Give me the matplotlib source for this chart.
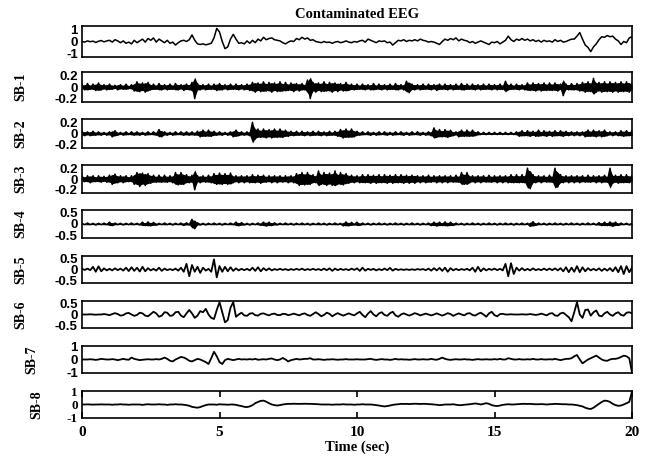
import numpy as np
import matplotlib.pyplot as plt

# sample times (s), one reading every 0.1 s
time_sec = np.arange(201) * 0.1

eeg = [
    0.0, -0.05, 0.05, -0.02, 0.03, -0.08, 0.02, 0.08, -0.03, 0.05,
    0.1, -0.05, 0.15, 0.05, -0.1, 0.05, -0.15, -0.05, -0.2, 0.1,
    -0.1, 0.05, 0.2, -0.05, 0.25, 0.1, 0.3, -0.05, 0.2, 0.05,
    -0.1, 0.1, -0.15, -0.05, -0.3, -0.1, 0.05, 0.1, 0.0, 0.15,
    0.55, 0.1, -0.2, -0.25, -0.2, -0.28, -0.22, -0.15, 0.3, 1.1,
    0.8, 0.0, -0.6, -0.45, 0.2, 0.6, 0.2, -0.15, -0.1, -0.2,
    0.05, -0.15, 0.1, -0.1, 0.2, 0.05, 0.35, 0.15, 0.25, 0.3,
    0.15, 0.1, 0.05, -0.1, -0.2, -0.05, 0.05, 0.0, 0.25, 0.15,
    0.35, 0.2, 0.3, 0.1, 0.15, 0.0, -0.05, -0.1, 0.0, -0.08,
    -0.05, -0.15, -0.05, 0.0, -0.1, -0.05, 0.05, -0.05, -0.1, 0.0,
    -0.05, 0.05, 0.1, -0.05, 0.2, 0.1, 0.0, -0.1, 0.05, 0.0,
    0.05, -0.1, -0.05, -0.3, -0.1, 0.1, 0.05, 0.15, 0.0, 0.1,
    0.05, 0.15, 0.05, 0.2, 0.1, 0.05, -0.05, 0.0, -0.05, -0.15,
    -0.25, 0.0, 0.2, 0.1, 0.25, 0.15, 0.3, 0.05, 0.2, 0.1,
    0.05, -0.1, 0.0, -0.15, -0.05, 0.05, -0.05, -0.15, -0.25, -0.05,
    -0.1, 0.0, -0.2, -0.05, 0.1, 0.45, 0.15, 0.0, 0.2, 0.1,
    0.25, 0.1, 0.2, 0.05, 0.15, 0.0, 0.1, -0.05, 0.1, 0.0,
    0.05, -0.05, 0.15, 0.0, 0.1, -0.05, 0.0, 0.1, 0.2, 0.2,
    0.45, 0.75, 0.2, -0.3, -0.5, -0.85, -0.45, -0.2, 0.15, 0.4,
    0.35, 0.5, 0.4, 0.45, 0.2, 0.05, -0.25, 0.0, -0.1, 0.3,
    0.4,
]

sb1 = [
    0.04, -0.05, 0.06, -0.04, 0.05, -0.06, 0.07, -0.05, 0.04, -0.05,
    0.05, -0.04, 0.03, -0.05, 0.04, -0.04, 0.05, -0.03, 0.04, -0.07,
    0.09, -0.08, 0.07, -0.09, 0.08, -0.05, 0.05, -0.04, 0.06, -0.05,
    0.04, -0.05, 0.05, -0.04, 0.06, -0.05, 0.04, -0.06, 0.05, -0.05,
    0.08, -0.2, 0.06, -0.05, 0.04, -0.05, 0.05, -0.04, 0.05, -0.06,
    0.06, -0.05, 0.04, -0.05, 0.05, -0.04, 0.05, -0.05, 0.04, -0.05,
    0.05, -0.06, 0.08, -0.09, 0.07, -0.08, 0.09, -0.07, 0.08, -0.09,
    0.07, -0.08, 0.09, -0.07, 0.08, -0.06, 0.07, -0.08, 0.06, -0.07,
    0.06, -0.05, 0.12, -0.2, 0.08, -0.09, 0.07, -0.08, 0.09, -0.07,
    0.08, -0.09, 0.07, -0.08, 0.06, -0.07, 0.08, -0.06, 0.05, -0.05,
    0.05, -0.04, 0.05, -0.05, 0.04, -0.05, 0.06, -0.04, 0.05, -0.05,
    0.04, -0.05, 0.05, -0.04, 0.06, -0.05, 0.04, -0.05, 0.1, -0.1,
    0.05, -0.05, 0.04, -0.05, 0.05, -0.04, 0.05, -0.05, 0.04, -0.06,
    0.05, -0.04, 0.05, -0.05, 0.04, -0.05, 0.05, -0.04, 0.06, -0.05,
    0.05, -0.04, 0.05, -0.05, 0.04, -0.05, 0.05, -0.04, 0.05, -0.05,
    0.04, -0.05, 0.05, -0.04, 0.1, -0.05, 0.05, -0.04, 0.05, -0.05,
    0.04, -0.05, 0.07, -0.06, 0.07, -0.07, 0.06, -0.07, 0.07, -0.06,
    0.07, -0.06, 0.07, -0.07, 0.05, -0.15, 0.05, -0.05, 0.06, -0.05,
    0.06, -0.07, 0.08, -0.09, 0.09, -0.08, 0.15, -0.09, 0.08, -0.09,
    0.09, -0.08, 0.09, -0.09, 0.08, -0.09, 0.09, -0.08, 0.09, -0.09,
    0.05,
]

sb2 = [
    0.04, -0.04, 0.03, -0.04, 0.04, -0.03, 0.03, -0.03, 0.02, -0.03,
    0.03, -0.06, 0.05, -0.03, 0.02, -0.03, 0.03, -0.02, 0.03, -0.03,
    0.03, -0.03, 0.02, -0.03, 0.03, -0.02, 0.03, -0.03, 0.07, -0.06,
    0.03, -0.03, 0.02, -0.03, 0.03, -0.02, 0.03, -0.03, 0.03, -0.03,
    0.03, -0.03, 0.04, -0.06, 0.06, -0.05, 0.06, -0.05, 0.04, -0.03,
    0.03, -0.03, 0.02, -0.03, 0.03, -0.06, 0.06, -0.04, 0.03, -0.03,
    0.03, -0.04, 0.2, -0.1, 0.08, -0.07, 0.08, -0.08, 0.07, -0.08,
    0.08, -0.07, 0.08, -0.07, 0.06, -0.05, 0.04, -0.04, 0.04, -0.03,
    0.04, -0.04, 0.03, -0.04, 0.04, -0.03, 0.04, -0.04, 0.03, -0.04,
    0.04, -0.03, 0.04, -0.05, 0.07, -0.08, 0.08, -0.07, 0.08, -0.06,
    0.04, -0.03, 0.03, -0.02, 0.03, -0.03, 0.02, -0.03, 0.03, -0.02,
    0.03, -0.03, 0.02, -0.03, 0.03, -0.02, 0.03, -0.03, 0.02, -0.03,
    0.03, -0.02, 0.03, -0.03, 0.02, -0.03, 0.03, -0.04, 0.1, -0.07,
    0.07, -0.06, 0.07, -0.07, 0.06, -0.04, 0.03, -0.06, 0.06, -0.05,
    0.06, -0.05, 0.06, -0.04, 0.03, -0.02, 0.02, -0.02, 0.02, -0.02,
    0.02, -0.02, 0.02, -0.02, 0.02, -0.02, 0.02, -0.02, 0.03, -0.05,
    0.05, -0.04, 0.05, -0.05, 0.04, -0.05, 0.06, -0.04, 0.05, -0.05,
    0.04, -0.05, 0.05, -0.04, 0.05, -0.05, 0.04, -0.04, 0.03, -0.04,
    0.03, -0.04, 0.03, -0.06, 0.06, -0.05, 0.06, -0.06, 0.05, -0.06,
    0.06, -0.04, 0.03, -0.04, 0.03, -0.04, 0.05, -0.05, 0.05, -0.04,
    0.05,
]

sb3 = [
    0.06, -0.05, 0.06, -0.07, 0.06, -0.05, 0.06, -0.06, 0.05, -0.06,
    0.07, -0.1, 0.09, -0.07, 0.06, -0.07, 0.06, -0.05, 0.06, -0.1,
    0.12, -0.14, 0.11, -0.12, 0.1, -0.08, 0.07, -0.06, 0.07, -0.06,
    0.07, -0.06, 0.06, -0.07, 0.12, -0.11, 0.12, -0.1, 0.08, -0.07,
    0.07, -0.2, 0.06, -0.07, 0.06, -0.06, 0.07, -0.07, 0.1, -0.1,
    0.11, -0.1, 0.1, -0.1, 0.11, -0.07, 0.06, -0.07, 0.06, -0.07,
    0.06, -0.07, 0.08, -0.07, 0.07, -0.08, 0.07, -0.06, 0.06, -0.07,
    0.06, -0.07, 0.06, -0.06, 0.06, -0.07, 0.06, -0.07, 0.1, -0.12,
    0.12, -0.11, 0.12, -0.1, 0.08, -0.07, 0.15, -0.1, 0.12, -0.12,
    0.11, -0.12, 0.15, -0.1, 0.12, -0.11, 0.1, -0.08, 0.07, -0.07,
    0.06, -0.07, 0.08, -0.07, 0.08, -0.08, 0.07, -0.08, 0.08, -0.07,
    0.08, -0.08, 0.07, -0.08, 0.08, -0.07, 0.08, -0.08, 0.07, -0.08,
    0.07, -0.08, 0.06, -0.07, 0.06, -0.07, 0.07, -0.06, 0.06, -0.07,
    0.06, -0.07, 0.06, -0.07, 0.06, -0.06, 0.07, -0.06, 0.12, -0.1,
    0.12, -0.07, 0.06, -0.07, 0.06, -0.07, 0.06, -0.06, 0.07, -0.06,
    0.06, -0.07, 0.06, -0.07, 0.06, -0.07, 0.08, -0.07, 0.08, -0.07,
    0.08, -0.07, 0.2, -0.18, 0.08, -0.07, 0.06, -0.07, 0.06, -0.06,
    0.07, -0.06, 0.2, -0.15, 0.08, -0.07, 0.06, -0.07, 0.06, -0.07,
    0.06, -0.07, 0.06, -0.06, 0.07, -0.06, 0.06, -0.07, 0.06, -0.07,
    0.07, -0.06, 0.2, -0.08, 0.07, -0.08, 0.08, -0.07, 0.08, -0.07,
    0.06,
]

sb4 = [
    0.03, -0.03, 0.04, -0.03, 0.03, -0.04, 0.03, -0.03, 0.04, -0.03,
    0.08, -0.07, 0.04, -0.03, 0.03, -0.04, 0.03, -0.03, 0.04, -0.03,
    0.03, -0.04, 0.08, -0.07, 0.09, -0.08, 0.07, -0.05, 0.03, -0.03,
    0.04, -0.03, 0.03, -0.04, 0.03, -0.03, 0.04, -0.06, 0.05, -0.04,
    0.2, -0.2, 0.05, -0.04, 0.03, -0.04, 0.03, -0.03, 0.04, -0.03,
    0.03, -0.04, 0.03, -0.03, 0.04, -0.03, 0.08, -0.08, 0.06, -0.04,
    0.03, -0.04, 0.03, -0.03, 0.04, -0.06, 0.08, -0.09, 0.08, -0.07,
    0.05, -0.04, 0.03, -0.03, 0.04, -0.03, 0.03, -0.04, 0.03, -0.03,
    0.04, -0.03, 0.03, -0.04, 0.03, -0.03, 0.04, -0.03, 0.03, -0.04,
    0.03, -0.03, 0.04, -0.03, 0.03, -0.08, 0.09, -0.08, 0.07, -0.04,
    0.08, -0.06, 0.04, -0.03, 0.03, -0.04, 0.03, -0.03, 0.04, -0.03,
    0.03, -0.04, 0.03, -0.03, 0.04, -0.03, 0.03, -0.04, 0.03, -0.03,
    0.04, -0.03, 0.03, -0.04, 0.03, -0.03, 0.04, -0.07, 0.08, -0.09,
    0.08, -0.07, 0.09, -0.08, 0.08, -0.06, 0.04, -0.03, 0.03, -0.04,
    0.03, -0.03, 0.04, -0.03, 0.03, -0.04, 0.03, -0.03, 0.04, -0.03,
    0.03, -0.04, 0.03, -0.03, 0.04, -0.03, 0.03, -0.04, 0.03, -0.03,
    0.04, -0.03, 0.03, -0.1, 0.1, -0.06, 0.04, -0.03, 0.03, -0.04,
    0.03, -0.03, 0.04, -0.03, 0.03, -0.04, 0.03, -0.03, 0.04, -0.03,
    0.03, -0.04, 0.03, -0.03, 0.04, -0.03, 0.03, -0.04, 0.06, -0.07,
    0.08, -0.07, 0.09, -0.1, 0.08, -0.06, 0.04, -0.03, 0.03, -0.04,
    0.03,
]

sb5 = [
    0.03, -0.02, 0.04, -0.03, 0.12, -0.1, 0.14, -0.08, 0.05, -0.04,
    0.03, -0.04, 0.05, -0.03, 0.04, -0.05, 0.08, -0.07, 0.1, -0.06,
    0.08, -0.09, 0.12, -0.08, 0.06, -0.04, 0.03, -0.05, 0.08, -0.06,
    0.04, -0.03, 0.02, -0.03, 0.04, -0.05, 0.08, -0.1, 0.25, -0.3,
    0.2, -0.1, 0.12, -0.15, 0.08, -0.05, 0.03, -0.1, 0.45, -0.35,
    0.15, -0.1, 0.12, -0.08, 0.1, -0.06, 0.05, -0.04, 0.03, -0.03,
    0.03, -0.04, 0.08, -0.06, 0.1, -0.08, 0.06, -0.04, 0.05, -0.04,
    0.02, -0.02, 0.03, -0.02, 0.02, -0.03, 0.02, -0.02, 0.03, -0.02,
    0.04, -0.03, 0.02, -0.02, 0.03, -0.02, 0.02, -0.03, 0.04, -0.03,
    0.05, -0.06, 0.04, -0.03, 0.03, -0.02, 0.02, -0.03, 0.04, -0.02,
    0.05, -0.06, 0.08, -0.05, 0.03, -0.02, 0.03, -0.04, 0.02, -0.03,
    0.04, -0.03, 0.07, -0.05, 0.03, -0.02, 0.01, -0.02, 0.01, -0.02,
    0.01, -0.02, 0.02, -0.01, 0.02, -0.03, 0.04, -0.05, 0.06, -0.04,
    0.07, -0.06, 0.08, -0.1, 0.06, -0.04, 0.03, -0.03, 0.02, -0.02,
    0.03, -0.04, 0.08, -0.1, 0.12, -0.08, 0.05, -0.04, 0.03, -0.02,
    0.04, -0.03, 0.03, -0.04, 0.25, -0.3, 0.28, -0.2, 0.08, -0.05,
    0.06, -0.04, 0.03, -0.04, 0.05, -0.03, 0.02, -0.03, 0.04, -0.03,
    0.04, -0.03, 0.05, -0.04, 0.06, -0.08, 0.1, -0.12, 0.08, -0.1,
    0.15, -0.12, 0.1, -0.08, 0.06, -0.04, 0.03, -0.04, 0.05, -0.06,
    0.04, -0.05, 0.06, -0.08, 0.1, -0.12, 0.15, -0.2, 0.15, -0.12,
    0.08,
]

sb6 = [
    0.0, 0.0, 0.0, 0.01, 0.0, -0.01, 0.0, 0.0, 0.02, 0.0,
    -0.03, 0.02, 0.06, 0.02, -0.05, -0.03, 0.05, 0.07, 0.0, -0.06,
    -0.02, 0.08, 0.05, -0.05, -0.08, 0.02, 0.12, 0.05, -0.1, -0.05,
    0.1, 0.08, -0.06, -0.04, 0.1, 0.12, -0.05, -0.12, 0.05, 0.2,
    0.05, -0.15, -0.05, 0.15, 0.1, 0.25, 0.0, -0.15, -0.2, 0.2,
    0.55, 0.1, -0.35, -0.25, 0.3, 0.55, -0.1, 0.0, 0.08, -0.04,
    -0.06, 0.04, 0.06, -0.03, -0.05, 0.03, 0.05, 0.0, -0.04, 0.02,
    0.04, -0.02, -0.03, 0.03, 0.02, -0.03, 0.0, 0.04, 0.0, -0.04,
    0.02, 0.05, -0.02, -0.06, 0.02, 0.1, 0.02, -0.08, -0.02, 0.08,
    0.03, -0.08, 0.0, 0.06, 0.0, -0.05, 0.0, 0.05, 0.0, -0.04,
    0.05, 0.12, -0.02, -0.12, 0.04, 0.15, 0.0, -0.08, 0.05, 0.1,
    -0.02, -0.06, 0.06, 0.12, -0.04, -0.1, 0.0, 0.05, 0.0, -0.05,
    0.0, 0.06, 0.02, -0.04, 0.0, 0.04, 0.0, -0.04, 0.0, 0.05,
    0.0, -0.05, 0.0, 0.06, 0.02, -0.06, 0.0, 0.05, 0.0, -0.04,
    0.04, 0.06, -0.02, -0.05, 0.03, 0.08, 0.0, -0.1, 0.05, 0.12,
    -0.03, -0.08, 0.02, 0.03, 0.0, 0.0, 0.01, 0.0, 0.0, 0.0,
    0.01, 0.0, 0.0, 0.02, 0.0, -0.02, 0.0, 0.04, 0.0, -0.04,
    0.04, 0.06, -0.04, -0.06, 0.05, 0.08, -0.02, -0.12, -0.3, 0.1,
    0.55, 0.0, -0.15, 0.2, 0.22, -0.05, 0.1, 0.18, -0.05, -0.08,
    0.05, 0.12, 0.0, -0.06, 0.05, 0.1, -0.02, -0.05, 0.08, 0.1,
    0.05,
]

sb7 = [
    0.0, 0.0, 0.0, 0.02, 0.0, -0.03, 0.0, 0.05, 0.02, 0.0,
    0.0, 0.03, 0.0, -0.05, 0.0, 0.05, 0.0, -0.02, 0.15, 0.05,
    0.0, -0.05, -0.02, 0.0, 0.02, 0.0, 0.0, 0.03, 0.0, 0.05,
    0.15, 0.05, -0.1, -0.15, 0.0, 0.1, 0.2, 0.15, 0.05, -0.1,
    -0.15, -0.05, 0.05, 0.0, -0.1, -0.2, -0.35, 0.1, 0.6, 0.25,
    -0.2, -0.35, -0.05, 0.05, 0.0, -0.05, 0.0, 0.05, 0.0, 0.02,
    0.0, 0.03, 0.0, 0.05, -0.02, 0.0, 0.02, 0.0, 0.05, 0.08,
    0.0, -0.05, 0.0, 0.12, 0.0, -0.15, -0.05, 0.0, 0.05, 0.0,
    0.02, 0.05, 0.05, 0.1, 0.0, 0.0, 0.02, 0.0, -0.03, 0.0,
    0.0, 0.02, 0.0, -0.02, 0.0, 0.0, 0.03, 0.0, 0.0, 0.0,
    0.02, 0.0, 0.0, 0.0, 0.03, 0.05, 0.0, -0.03, 0.0, 0.03,
    0.0, 0.0, -0.03, 0.0, 0.05, 0.0, 0.02, 0.0, 0.0, -0.02,
    0.0, 0.03, 0.0, 0.0, 0.02, 0.0, 0.0, 0.05, 0.0, -0.02,
    0.05, 0.15, 0.05, 0.0, -0.03, 0.0, 0.02, 0.0, 0.0, 0.03,
    0.0, 0.0, -0.03, 0.0, 0.03, 0.0, 0.0, 0.02, 0.0, 0.0,
    0.03, 0.0, 0.05, 0.0, 0.0, 0.1, 0.05, 0.0, 0.0, 0.03,
    0.0, 0.0, 0.02, 0.0, 0.05, 0.0, 0.0, 0.03, 0.0, 0.0,
    0.02, 0.0, 0.05, 0.0, -0.05, 0.0, 0.05, 0.05, 0.1, 0.25,
    0.35, 0.0, -0.3, -0.15, 0.0, 0.1, 0.2, 0.3, 0.15, 0.0,
    -0.08, -0.1, 0.0, 0.05, 0.05, 0.1, 0.2, 0.3, 0.25, 0.1,
    -1.0,
]

sb8 = [
    0.0, 0.0, 0.01, 0.0, -0.01, 0.0, 0.0, 0.01, 0.0, 0.0,
    0.0, -0.02, 0.0, 0.0, 0.02, 0.0, 0.0, -0.02, 0.0, 0.0,
    0.0, 0.0, -0.03, 0.0, 0.02, 0.0, 0.0, 0.0, 0.02, 0.0,
    0.0, -0.03, 0.0, 0.0, 0.02, 0.0, 0.0, -0.02, -0.05, -0.1,
    -0.18, -0.22, -0.25, -0.2, -0.12, -0.05, 0.0, 0.0, 0.0, -0.02,
    0.02, 0.0, 0.0, -0.02, 0.0, 0.0, -0.03, -0.08, -0.12, -0.18,
    -0.2, -0.15, -0.05, 0.1, 0.2, 0.28, 0.3, 0.22, 0.1, 0.0,
    -0.05, -0.08, -0.05, 0.0, 0.03, 0.05, 0.05, 0.06, 0.05, 0.05,
    0.05, 0.06, 0.05, 0.05, 0.04, 0.03, 0.02, 0.0, 0.0, 0.0,
    0.0, -0.02, 0.0, 0.0, 0.0, 0.02, 0.0, 0.0, 0.0, -0.02,
    0.0, 0.0, 0.02, 0.0, 0.0, 0.0, -0.02, -0.05, -0.08, -0.12,
    -0.15, -0.12, -0.08, -0.03, 0.0, 0.02, 0.05, 0.04, 0.05, 0.03,
    0.05, 0.06, 0.05, 0.04, 0.05, 0.05, 0.03, 0.02, 0.0, -0.02,
    -0.05, -0.03, 0.0, 0.0, 0.0, 0.02, -0.02, -0.05, -0.05, -0.02,
    0.0, 0.02, 0.05, 0.08, 0.05, 0.0, 0.05, 0.1, 0.05, -0.05,
    -0.1, -0.12, -0.08, -0.03, 0.0, 0.02, 0.0, 0.0, 0.02, 0.03,
    0.05, 0.05, 0.04, 0.05, 0.03, 0.02, 0.02, 0.03, 0.02, 0.0,
    0.02, 0.03, 0.05, 0.04, 0.03, 0.02, 0.02, 0.0, 0.0, -0.02,
    -0.05, -0.1, -0.15, -0.25, -0.32, -0.35, -0.25, -0.1, 0.05, 0.2,
    0.3, 0.28, 0.2, 0.05, -0.05, -0.1, -0.08, 0.0, 0.1, 0.2,
    1.0,
]

signals = [eeg, sb1, sb2, sb3, sb4, sb5, sb6, sb7, sb8]
band_names = ["", "SB-1", "SB-2", "SB-3", "SB-4", "SB-5", "SB-6", "SB-7", "SB-8"]
y_limits = [1.3, 0.26, 0.26, 0.26, 0.6, 0.6, 0.6, 1.05, 1.05]
y_ticks = [[-1, 0, 1], [-0.2, 0, 0.2], [-0.2, 0, 0.2], [-0.2, 0, 0.2],
           [-0.5, 0, 0.5], [-0.5, 0, 0.5], [-0.5, 0, 0.5], [-1, 0, 1], [-1, 0, 1]]
y_tick_labels = [["-1", "0", "1"], ["-0.2", "0", "0.2"], ["-0.2", "0", "0.2"],
                 ["-0.2", "0", "0.2"], ["-0.5", "0", "0.5"], ["-0.5", "0", "0.5"],
                 ["-0.5", "0", "0.5"], ["-1", "0", "1"], ["-1", "0", "1"]]
x_ticks = [0, 5, 10, 15, 20]

# panel frames in pixels (top, bottom) on a 647 x 459 canvas
W, H = 647, 459
frame_tops = [26, 72, 119, 165, 210, 256, 301, 346, 391]
frame_bottoms = [57, 102, 148, 193, 238, 283, 328, 373, 418]
left_px, right_px = 82, 632
# right edge of the rotated band labels, in pixels
label_right_px = [0, 27, 27, 27, 27, 27, 27, 38, 43]

SERIF = "Liberation Serif"
SANS = "Liberation Sans"

fig = plt.figure(figsize=(W / 100, H / 100), dpi=100)
fig.patch.set_facecolor("white")

axes = []
for i, sig in enumerate(signals):
    top, bot = frame_tops[i], frame_bottoms[i]
    ax = fig.add_axes([left_px / W, 1 - bot / H, (right_px - left_px) / W, (bot - top) / H])
    dense = i in (1, 2, 3, 4)
    if dense:
        # dense sub-bands read as a solid black core plus the zigzag trace
        core = np.abs(np.asarray(sig)) * 0.85
        ax.fill_between(time_sec, -core, core, color="black", lw=0)
        ax.plot(time_sec, sig, color="black", lw=1.1)
    else:
        ax.plot(time_sec, sig, color="black", lw=1.1 if i == 0 else 1.3)
    ax.set_xlim(0, 20)
    ax.set_ylim(-y_limits[i], y_limits[i])
    for sp in ax.spines.values():
        sp.set_linewidth(1.2)
    ax.set_yticks(y_ticks[i])
    tick_family = SERIF if i == 8 else SANS
    ax.set_yticklabels(y_tick_labels[i], fontfamily=tick_family,
                       fontweight="bold", fontsize=9.5)
    ax.tick_params(axis="y", length=0, pad=3)
    if band_names[i]:
        ax.set_ylabel(band_names[i], fontfamily=SERIF, fontweight="bold",
                      fontsize=10)
        ax.yaxis.set_label_coords((label_right_px[i] - left_px) / (right_px - left_px), 0.5)
    if i == len(signals) - 1:
        ax.set_xticks(x_ticks)
        ax.set_xticklabels([str(v) for v in x_ticks], fontfamily=SERIF,
                           fontweight="bold", fontsize=11)
        ax.tick_params(axis="x", direction="in", length=4, width=1.2,
                       top=True, bottom=True, pad=6)
        ax.set_xlabel("Time (sec)", fontfamily=SERIF, fontweight="bold",
                      fontsize=10.5, labelpad=1)
    else:
        ax.set_xticks([])
    axes.append(ax)

axes[0].set_title("Contaminated EEG", fontfamily=SERIF, fontweight="bold",
                  fontsize=10.5, pad=6)

fig.savefig("out.png", dpi=100, facecolor="white")
